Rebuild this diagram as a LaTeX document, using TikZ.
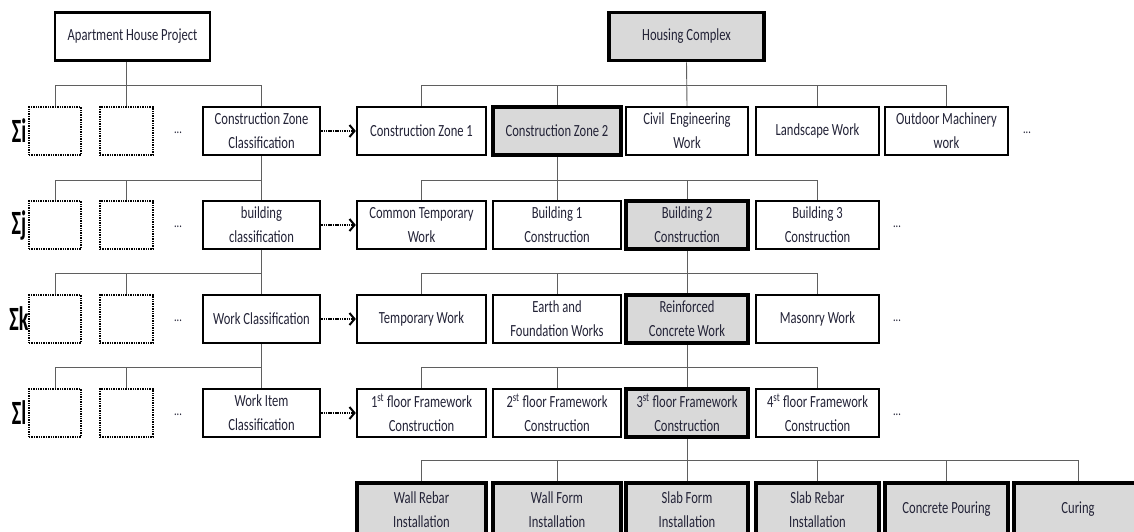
\documentclass[tikz,border=0pt]{standalone}
\usepackage{fontspec}
\setmainfont{Carlito}[FakeStretch=0.74]
\usetikzlibrary{arrows.meta}
\definecolor{boxfill}{RGB}{217,217,217}
\definecolor{txt}{RGB}{35,35,55}
\definecolor{conn}{RGB}{95,95,95}
\begin{document}
\begin{tikzpicture}[x=1pt,y=-1pt,
 every node/.style={font=\fontsize{17}{24}\selectfont, text=txt, align=center, inner sep=0pt},
 wbox/.style={draw=black, line width=2.4pt, fill=white, minimum height=48pt},
 gbox/.style={draw=black, line width=3.6pt, fill=boxfill, minimum height=48pt},
 dbox/.style={draw=black, line width=1.8pt, dash pattern=on 1.4pt off 1pt, minimum width=52pt, minimum height=48pt},
 link/.style={draw=conn, line width=0.9pt},
 flow/.style={draw=black, line width=2pt, dash pattern=on 1.5pt off 0.8pt, -{Straight Barb[length=5pt,width=12pt,line width=2pt]}},
 sig/.style={font=\bfseries\fontsize{34}{34}\selectfont, text=black, xscale=0.8, transform shape},
 dots/.style={font=\fontsize{14}{14}\selectfont, text=txt}]
\useasboundingbox (0,0) rectangle (1134,531);
\clip (0,0) rectangle (1134,531);
\fill[white] (0,0) rectangle (1134,531);
% bus levels
\coordinate (b0) at (0,85);
\coordinate (b1) at (0,180);
\coordinate (b2) at (0,273);
\coordinate (b3) at (0,367);
\coordinate (b4) at (0,460);
% top nodes
\node[wbox, minimum width=155pt] (ahp) at (132.5,36.5) {Apartment House Project};
\node[gbox, minimum width=155pt] (hc) at (686.5,36.5) {Housing Complex};
% left side rows
\foreach \r/\y/\s/\t in {1/131/i/{Construction Zone\\Classification},
                          2/225/j/{building\\classification},
                          3/319/k/{Work Classification},
                          4/413/l/{Work Item\\Classification}}{
  \node[dbox] (l\r a) at (55,\y) {};
  \node[dbox, minimum width=53pt] (l\r b) at (126.5,\y) {};
  \node[dots] (ld\r) at (178,\y+2) {...};
  \node[wbox, minimum width=117pt] (l\r c) at (261.5,\y) {\t};
  \node[sig] (sg\r) at (19,\y) {Σ\s};
}
% right row 1
\node[wbox, minimum width=129pt] (r1a) at (421.5,131) {Construction Zone 1};
\node[gbox, minimum width=128pt] (r1b) at (557,131) {Construction Zone 2};
\node[wbox, minimum width=122pt] (r1c) at (687,131) {Civil\ \ Engineering\\Work};
\node[wbox, minimum width=123pt] (r1d) at (817.5,131) {Landscape Work};
\node[wbox, minimum width=123pt] (r1e) at (946.5,131) {Outdoor Machinery\\work};
\node[dots] (rd1) at (1027,133) {...};
% right row 2
\node[wbox, minimum width=129pt] (r2a) at (421.5,225) {Common Temporary\\Work};
\node[wbox, minimum width=128pt] (r2b) at (557,225) {Building 1\\Construction};
\node[gbox, minimum width=122pt] (r2c) at (687,225) {Building 2\\Construction};
\node[wbox, minimum width=123pt] (r2d) at (817.5,225) {Building 3\\Construction};
\node[dots] (rd2) at (897,227) {...};
% right row 3
\node[wbox, minimum width=129pt] (r3a) at (421.5,319) {Temporary Work};
\node[wbox, minimum width=128pt] (r3b) at (557,319) {Earth and\\Foundation Works};
\node[gbox, minimum width=122pt] (r3c) at (687,319) {Reinforced\\Concrete Work};
\node[wbox, minimum width=123pt] (r3d) at (817.5,319) {Masonry Work};
\node[dots] (rd3) at (897,321) {...};
% right row 4
\node[wbox, minimum width=129pt] (r4a) at (421.5,413) {1\textsuperscript{st} floor Framework\\Construction};
\node[wbox, minimum width=128pt] (r4b) at (557,413) {2\textsuperscript{st} floor Framework\\Construction};
\node[gbox, minimum width=122pt] (r4c) at (687,413) {3\textsuperscript{st} floor Framework\\Construction};
\node[wbox, minimum width=123pt] (r4d) at (817.5,413) {4\textsuperscript{st} floor Framework\\Construction};
\node[dots] (rd4) at (897,415) {...};
% right row 5
\node[gbox, minimum width=129pt, minimum height=53pt] (r5a) at (421.5,509.5) {Wall Rebar\\Installation};
\node[gbox, minimum width=128pt, minimum height=53pt] (r5b) at (557,509.5) {Wall Form\\Installation};
\node[gbox, minimum width=122pt, minimum height=53pt] (r5c) at (687,509.5) {Slab Form\\Installation};
\node[gbox, minimum width=123pt, minimum height=53pt] (r5d) at (817.5,509.5) {Slab Rebar\\Installation};
\node[gbox, minimum width=123pt, minimum height=53pt] (r5e) at (946.5,509.5) {Concrete Pouring};
\node[gbox, minimum width=128pt, minimum height=53pt] (r5f) at (1078,509.5) {Curing};
% left connectors
\draw[link] (ahp.south -| l1b.north) -- (l1b.north);
\draw[link] (l1a.north) |- (l1c.north |- b0) -- (l1c.north);
\draw[link] (l1c.south) -- (l2c.north);
\draw[link] (l2a.north) |- (l2c.north |- b1);
\draw[link] (l2b.north) -- (l2b.north |- b1);
\draw[link] (l2c.south) -- (l3c.north);
\draw[link] (l3a.north) |- (l3c.north |- b2);
\draw[link] (l3b.north) -- (l3b.north |- b2);
\draw[link] (l3c.south) -- (l4c.north);
\draw[link] (l4a.north) |- (l4c.north |- b3);
\draw[link] (l4b.north) -- (l4b.north |- b3);
% right connectors
\draw[link] (hc.south) -- (r1c.north);
\draw[link] (r1a.north) |- (r1e.north |- b0) -- (r1e.north);
\foreach \n in {r1b,r1d} \draw[link] (\n.north) -- (\n.north |- b0);
\draw[link] (r1b.south) -- (r2b.north);
\draw[link] (r2a.north) |- (r2d.north |- b1) -- (r2d.north);
\draw[link] (r2c.north) -- (r2c.north |- b1);
\draw[link] (r2c.south) -- (r3c.north);
\draw[link] (r3a.north) |- (r3d.north |- b2) -- (r3d.north);
\draw[link] (r3b.north) -- (r3b.north |- b2);
\draw[link] (r3c.south) -- (r4c.north);
\draw[link] (r4a.north) |- (r4d.north |- b3) -- (r4d.north);
\draw[link] (r4b.north) -- (r4b.north |- b3);
\draw[link] (r4c.south) -- (r5c.north);
\draw[link] (r5a.north) |- (r5f.north |- b4) -- (r5f.north);
\foreach \n in {r5b,r5d,r5e} \draw[link] (\n.north) -- (\n.north |- b4);
% dotted arrows
\foreach \r in {1,2,3,4} \draw[flow] (l\r c.east) -- (r\r a.west);
\end{tikzpicture}
\end{document}
